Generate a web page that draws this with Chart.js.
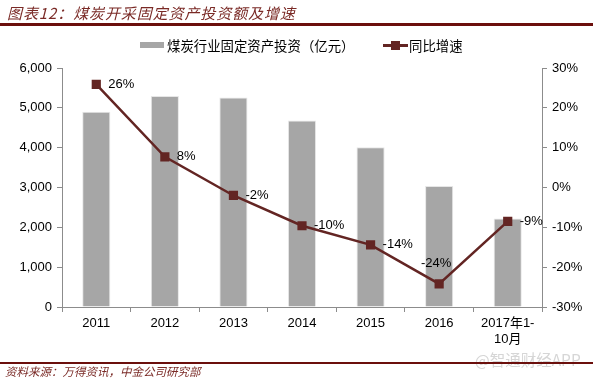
<!DOCTYPE html>
<html>
<head>
<meta charset="utf-8">
<script src="https://cdn.jsdelivr.net/npm/chart.js@4"></script>
<style>
    body { margin: 0; width: 593px; height: 379px; background: #fff; position: relative; overflow: hidden; font-family: "Liberation Sans", Arial, sans-serif; }
    #wrap { position: absolute; left: 0; top: 0; width: 593px; height: 379px; }
    .abs { position: absolute; white-space: nowrap; }
    .title { left: 7px; top: 2px; font: italic 15px "Noto Sans CJK SC", sans-serif; letter-spacing: 0.9px; color: #7a2a26; }
    .rule { left: 0; width: 593px; background: #6b0f0c; }
    .legtxt { font: 13.4px "Noto Sans CJK SC", sans-serif; color: #000; top: 35px; }
    .src { left: 5px; top: 363px; font: italic 11.5px "Noto Sans CJK SC", sans-serif; color: #7a2a26; }
    .wm { left: 475px; top: 348px; font: 15.5px "Noto Sans CJK SC", sans-serif; color: #d6d6d6; }
</style>
</head>
<body>
<div id="wrap"><canvas id="coalChart" width="593" height="379"></canvas></div>
<div class="abs title">图表12：煤炭开采固定资产投资额及增速</div>
<div class="abs rule" style="top:23px;height:2.5px;"></div>
<div class="abs" style="left:140px;top:42px;width:24px;height:6px;background:#a6a6a6;"></div>
<div class="abs legtxt" style="left:167px;">煤炭行业固定资产投资（亿元）</div>
<div class="abs" style="left:383px;top:44px;width:25px;height:2.5px;background:#632523;"></div>
<div class="abs" style="left:391px;top:41px;width:9px;height:9px;background:#632523;"></div>
<div class="abs legtxt" style="left:409px;">同比增速</div>
<div class="abs wm">@智通财经APP</div>
<div class="abs rule" style="top:362px;height:1.5px;"></div>
<div class="abs src">资料来源：万得资讯，中金公司研究部</div>

<script>
const categories = ['2011', '2012', '2013', '2014', '2015', '2016', ['2017年1-', '10月']];
const investment = [4900, 5300, 5260, 4680, 4010, 3040, 2220];   // 亿元
const growth = [25.9, 7.7, -2.0, -9.6, -14.4, -24.2, -8.5];       // %
const growthLabels = ['26%', '8%', '-2%', '-10%', '-14%', '-24%', '-9%'];

const axisGray = '#8c8c8c';
const lineColor = '#632523';

const pointLabels = {
    id: 'pointLabels',
    afterDatasetsDraw(chart) {
        const ctx = chart.ctx;
        const meta = chart.getDatasetMeta(1);
        ctx.save();
        ctx.font = '13px "Liberation Sans", Arial, sans-serif';
        ctx.fillStyle = '#000';
        meta.data.forEach((pt, i) => {
            if (i === 5) {
                ctx.textAlign = 'center';
                ctx.textBaseline = 'middle';
                ctx.fillText(growthLabels[i], pt.x - 3, pt.y - 20);
            } else {
                ctx.textAlign = 'left';
                ctx.textBaseline = 'middle';
                ctx.fillText(growthLabels[i], pt.x + 12, pt.y);
            }
        });
        ctx.restore();
    }
};

new Chart(document.getElementById('coalChart').getContext('2d'), {
    data: {
        labels: categories,
        datasets: [
            {
                type: 'bar',
                label: '煤炭行业固定资产投资（亿元）',
                data: investment,
                yAxisID: 'y',
                backgroundColor: '#a6a6a6',
                borderColor: '#e6e6e6',
                borderWidth: 1,
                barPercentage: 0.41,
                categoryPercentage: 1,
                order: 2
            },
            {
                type: 'line',
                label: '同比增速',
                data: growth,
                yAxisID: 'y1',
                borderColor: lineColor,
                backgroundColor: lineColor,
                borderWidth: 2.5,
                pointStyle: 'rect',
                pointRadius: 6.5,
                pointBorderWidth: 0,
                tension: 0,
                order: 1
            }
        ]
    },
    options: {
        responsive: false,
        animation: false,
        layout: { padding: { top: 68, bottom: 0, left: 0, right: 0 } },
        plugins: { legend: { display: false }, tooltip: { enabled: false } },
        scales: {
            x: {
                grid: { offset: true, drawOnChartArea: false, drawTicks: true, tickLength: 5, color: axisGray },
                border: { color: axisGray, width: 1 },
                ticks: { color: '#000', font: { size: 13, family: '"Liberation Sans", Arial, "Noto Sans CJK SC", sans-serif' }, padding: 4, maxRotation: 0 },
                afterFit: s => { s.height = 72; }
            },
            y: {
                position: 'left',
                min: 0, max: 6000,
                ticks: { stepSize: 1000, color: '#000', padding: 5, font: { size: 13, family: '"Liberation Sans", Arial, sans-serif' },
                    callback: v => v.toLocaleString('en-US') },
                grid: { drawOnChartArea: false, drawTicks: true, tickLength: 5, color: axisGray },
                border: { color: axisGray, width: 1 },
                afterFit: s => { s.width = 62; }
            },
            y1: {
                position: 'right',
                min: -30, max: 30,
                ticks: { stepSize: 10, color: '#000', padding: 5, font: { size: 13, family: '"Liberation Sans", Arial, sans-serif' },
                    callback: v => v + '%' },
                grid: { drawOnChartArea: false, drawTicks: true, tickLength: 5, color: axisGray },
                border: { color: axisGray, width: 1 },
                afterFit: s => { s.width = 51; }
            }
        }
    },
    plugins: [pointLabels]
});
</script>
</body>
</html>
